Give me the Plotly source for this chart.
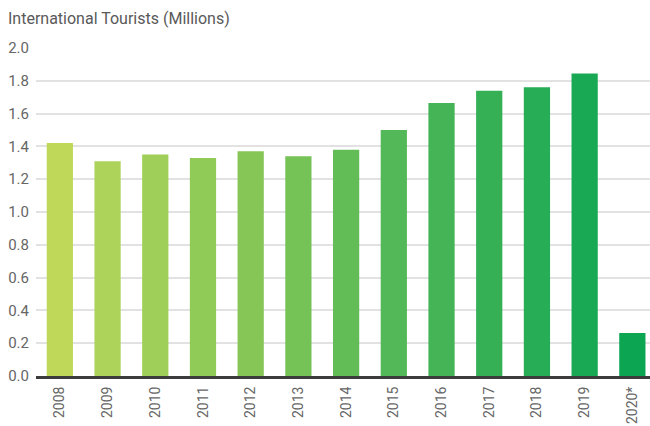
import plotly.graph_objects as go

years = ["2008", "2009", "2010", "2011", "2012", "2013", "2014",
         "2015", "2016", "2017", "2018", "2019", "2020*"]
tourists = [1.42, 1.31, 1.35, 1.33, 1.37, 1.34, 1.38,
            1.50, 1.665, 1.74, 1.76, 1.845, 0.262]
bar_colors = ["#bfd85a", "#aed35a", "#a0cf59", "#90ca57", "#86c656",
              "#75c257", "#63bd57", "#53b857", "#45b456", "#35b055",
              "#26ad56", "#19a955", "#0ca552"]
y_ticks = [0.0, 0.2, 0.4, 0.6, 0.8, 1.0, 1.2, 1.4, 1.6, 1.8, 2.0]

FONT = "Roboto, Liberation Sans, sans-serif"

fig = go.Figure(
    go.Bar(
        x=years,
        y=tourists,
        marker=dict(color=bar_colors, line=dict(width=0)),
        width=0.55,
        hoverinfo="x+y",
    )
)

fig.update_layout(
    width=650,
    height=426,
    margin=dict(l=36, r=0, t=48, b=50),
    paper_bgcolor="white",
    plot_bgcolor="white",
    showlegend=False,
    font=dict(family=FONT, color="#666666"),
    title=dict(
        text="International Tourists (Millions)",
        x=8 / 650,
        xref="container",
        xanchor="left",
        y=1 - 18 / 426,
        yref="container",
        yanchor="middle",
        font=dict(family=FONT, size=16, color="#595959"),
    ),
)

fig.update_xaxes(
    type="category",
    range=[-0.5, 12.37],
    tickangle=-90,
    tickfont=dict(size=14, color="#666666"),
    showgrid=False,
    showline=True,
    linecolor="#3c3c3c",
    linewidth=3,
    ticks="",
    ticklabelstandoff=2,
    automargin=False,
)

fig.update_yaxes(
    range=[0, 2.0],
    tickvals=y_ticks,
    ticktext=[f"{v:.1f}" for v in y_ticks],
    tickfont=dict(size=15, color="#666666"),
    showgrid=True,
    gridcolor="#e2e2e2",
    gridwidth=1.5,
    zeroline=False,
    showline=False,
    ticks="",
    ticklabelstandoff=6,
    automargin=False,
)

fig.write_html("out.html")
